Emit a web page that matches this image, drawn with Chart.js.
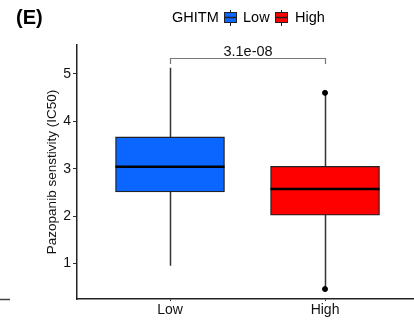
<!DOCTYPE html>
<html>
<head>
<meta charset="utf-8">
<script src="https://cdn.jsdelivr.net/npm/chart.js@4/dist/chart.umd.min.js"></script>
<style>
  html, body { margin: 0; padding: 0; background: #fff; }
  #wrap { width: 414px; height: 322px; position: relative; }
</style>
</head>
<body>
<div id="wrap"><canvas id="chart"></canvas></div>
<script>
// ── Data ───────────────────────────────────────────────
const groups   = ['Low', 'High'];
const groupX   = [1, 2];
const q1       = [2.51, 2.02];
const median   = [3.04, 2.57];
const q3       = [3.67, 3.05];
const whiskLo  = [0.95, 0.46];
const whiskHi  = [5.13, 4.60];
const pointsX  = [2, 2];
const pointsY  = [4.60, 0.46];
const yTicks   = [1, 2, 3, 4, 5];
const pLabel   = '3.1e-08';
const boxColors = ['#0a66ff', '#ff0000'];

const FONT = '"Liberation Sans", Arial, sans-serif';

// ── Box plot extras: whiskers, medians, bracket, legend ─
const boxExtras = {
    id: 'boxExtras',
    beforeDatasetsDraw(chart) {
        const { ctx, scales: { x, y } } = chart;
        ctx.save();
        ctx.strokeStyle = '#333';
        ctx.lineWidth = 1.5;
        groupX.forEach((gx, i) => {
            const px = Math.round(x.getPixelForValue(gx)) + 0.5;
            ctx.beginPath();
            ctx.moveTo(px, y.getPixelForValue(q3[i]));
            ctx.lineTo(px, y.getPixelForValue(whiskHi[i]));
            ctx.moveTo(px, y.getPixelForValue(q1[i]));
            ctx.lineTo(px, y.getPixelForValue(whiskLo[i]));
            ctx.stroke();
        });
        ctx.restore();
    },
    afterDatasetsDraw(chart) {
        const { ctx, scales: { x, y } } = chart;
        const half = 54.5;
        ctx.save();
        // medians
        ctx.strokeStyle = '#000';
        ctx.lineWidth = 2.6;
        groupX.forEach((gx, i) => {
            const px = x.getPixelForValue(gx);
            const py = y.getPixelForValue(median[i]);
            ctx.beginPath();
            ctx.moveTo(px - half, py);
            ctx.lineTo(px + half, py);
            ctx.stroke();
        });

        // p-value bracket
        const x1 = Math.round(x.getPixelForValue(groupX[0])) + 0.5;
        const x2 = Math.round(x.getPixelForValue(groupX[1])) + 0.5;
        const yb = Math.round(y.getPixelForValue(5.33)) + 0.5;
        const yl = y.getPixelForValue(5.21);
        ctx.strokeStyle = '#777';
        ctx.lineWidth = 1.2;
        ctx.beginPath();
        ctx.moveTo(x1, yl);
        ctx.lineTo(x1, yb);
        ctx.lineTo(x2, yb);
        ctx.lineTo(x2, yl);
        ctx.stroke();
        ctx.fillStyle = '#111';
        ctx.font = '14.5px ' + FONT;
        ctx.textAlign = 'center';
        ctx.textBaseline = 'alphabetic';
        ctx.fillText(pLabel, (x1 + x2) / 2, yb - 3);

        // panel tag
        ctx.font = 'bold 20px ' + FONT;
        ctx.textAlign = 'left';
        ctx.fillStyle = '#000';
        ctx.fillText('(E)', 16, 24);

        // legend
        ctx.font = '14.5px ' + FONT;
        ctx.fillText('GHITM', 172, 22);
        const drawKey = (lx, color) => {
            ctx.strokeStyle = '#222';
            ctx.lineWidth = 1;
            ctx.beginPath();
            ctx.moveTo(lx + 6.5, 10);
            ctx.lineTo(lx + 6.5, 26);
            ctx.stroke();
            ctx.fillStyle = color;
            ctx.fillRect(lx, 12.5, 13, 10);
            ctx.strokeRect(lx + 0.5, 12.5, 12, 10);
            ctx.lineWidth = 1.5;
            ctx.beginPath();
            ctx.moveTo(lx, 17.5);
            ctx.lineTo(lx + 13, 17.5);
            ctx.stroke();
        };
        drawKey(224, boxColors[0]);
        ctx.fillStyle = '#000';
        ctx.fillText(groups[0], 243, 22);
        drawKey(275, boxColors[1]);
        ctx.fillStyle = '#000';
        ctx.fillText(groups[1], 295, 22);

        // stray axis stub at left edge
        ctx.strokeStyle = '#444';
        ctx.lineWidth = 1.5;
        ctx.beginPath();
        ctx.moveTo(0, 299.5);
        ctx.lineTo(10, 299.5);
        ctx.stroke();
        ctx.restore();
    }
};

// ── Chart ──────────────────────────────────────────────
new Chart(document.getElementById('chart'), {
    type: 'bar',
    data: {
        datasets: [
            {
                type: 'bar',
                data: groupX.map((gx, i) => ({ x: gx, y: [q1[i], q3[i]] })),
                backgroundColor: boxColors,
                borderColor: '#222',
                borderWidth: 1.3,
                borderSkipped: false,
                barThickness: 109,
                order: 1
            },
            {
                type: 'scatter',
                data: pointsX.map((px, i) => ({ x: px, y: pointsY[i] })),
                backgroundColor: '#000',
                borderColor: '#000',
                pointRadius: 2.5,
                order: 0
            }
        ]
    },
    plugins: [boxExtras],
    options: {
        responsive: true,
        maintainAspectRatio: false,
        animation: false,
        layout: { autoPadding: false, padding: { top: 45, left: 0, right: 0, bottom: 0 } },
        plugins: {
            legend: { display: false },
            tooltip: { enabled: false }
        },
        scales: {
            x: {
                type: 'linear',
                min: 0.4,
                max: 2.574,
                offset: false,
                afterFit: s => { s.height = 23; },
                afterBuildTicks: s => { s.ticks = groupX.map(v => ({ value: v })); },
                ticks: {
                    color: '#111',
                    font: { family: FONT, size: 14 },
                    padding: 1,
                    callback: v => groups[groupX.indexOf(v)] || ''
                },
                grid: { offset: false, drawOnChartArea: false, drawTicks: true, tickLength: 2, color: '#333' },
                border: { display: true, color: '#222', width: 1.5 }
            },
            y: {
                min: 0.25,
                max: 5.61,
                afterFit: s => { s.width = 77; },
                afterBuildTicks: s => { s.ticks = yTicks.map(v => ({ value: v })); },
                ticks: {
                    color: '#111',
                    font: { family: FONT, size: 14 },
                    padding: 2
                },
                grid: { drawOnChartArea: false, drawTicks: true, tickLength: 4, color: '#333' },
                border: { display: true, color: '#222', width: 1.5 },
                title: {
                    display: true,
                    text: 'Pazopanib senstivity (IC50)',
                    color: '#111',
                    font: { family: FONT, size: 13.5 },
                    padding: { top: 44, bottom: 0 }
                }
            }
        }
    }
});
</script>
</body>
</html>
